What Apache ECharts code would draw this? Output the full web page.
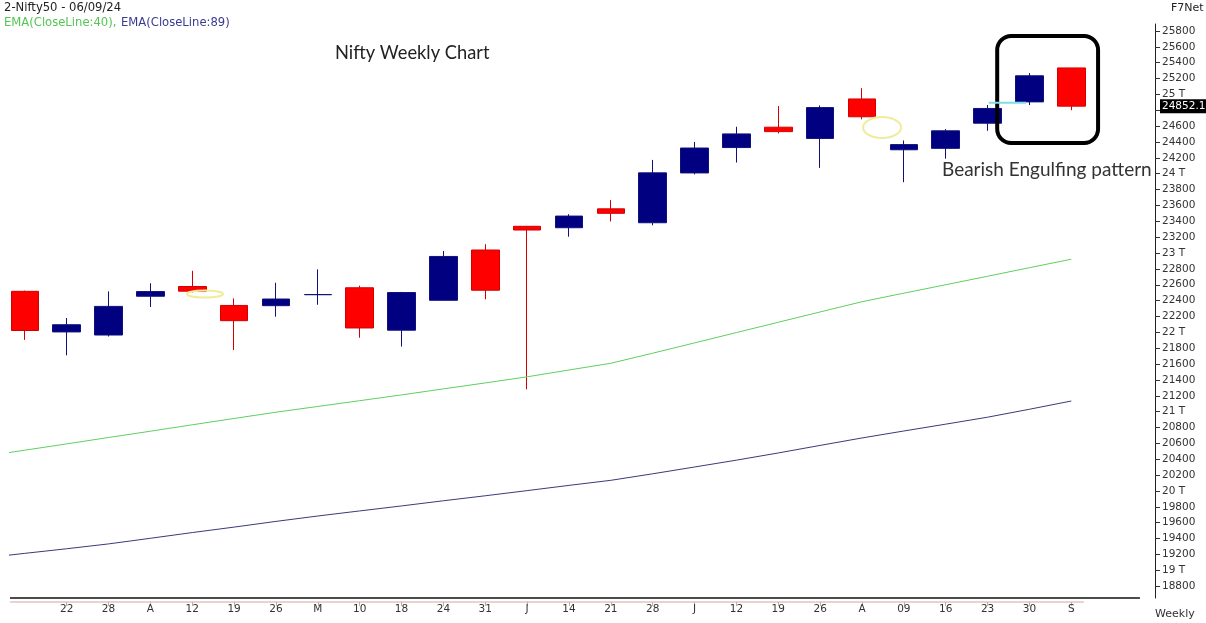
<!DOCTYPE html>
<html><head><meta charset="utf-8">
<script src="https://cdn.jsdelivr.net/npm/echarts@6/dist/echarts.min.js"></script>
<style>html,body{margin:0;padding:0;background:#fff}#c{width:1206px;height:623px}</style>
</head><body><div id="c"></div>
<script>
// Weekly labels (index 0 = week of 11 Mar 2024, unlabeled)
const weekLabels = ['', '22','28','A','12','19','26','M','10','18','24','31','J','14','21','28','J','12','19','26','A','09','16','23','30','S'];
const openVals  = [22517, 22005, 21966, 22455, 22578, 22339, 22336, 22475, 22562, 22027, 22404, 23038, 23337, 23319, 23557, 23382, 24010, 24330, 24587, 24445, 24943, 24302, 24320, 24637, 24906, 25334];
const closeVals = [22023, 22096, 22327, 22514, 22519, 22147, 22420, 22476, 22055, 22502, 22957, 22531, 23290, 23466, 23501, 24011, 24324, 24502, 24531, 24834, 24718, 24367, 24541, 24823, 25235, 24852.1];
const lowVals   = [21905, 21710, 21947, 22320, 22503, 21777, 22198, 22348, 21932, 21821, 22404, 22417, 21281, 23206, 23398, 23350, 23992, 24141, 24508, 24074, 24686, 23893, 24190, 24541, 24866, 24801];
const highVals  = [22526, 22180, 22516, 22619, 22776, 22428, 22625, 22794, 22588, 22510, 23026, 23111, 23339, 23490, 23667, 24174, 24401, 24592, 24854, 24861, 25078, 24419, 24563, 24867, 25269, 25334];
// EMA values, starting one week before the first candle (index -1)
const ema40 = [20434, 20514, 20593, 20674, 20753, 20834, 20914, 20993, 21065, 21138, 21211, 21287, 21362, 21439, 21525, 21610, 21737, 21867, 21997, 22127, 22257, 22386, 22494, 22600, 22707, 22815, 22922];
const ema89 = [19153, 19213, 19271, 19332, 19403, 19475, 19544, 19616, 19684, 19748, 19811, 19876, 19939, 20004, 20070, 20134, 20216, 20302, 20388, 20479, 20574, 20668, 20756, 20842, 20930, 21030, 21134];
const yTicks = [];
for (let v = 18800; v <= 25800; v += 200) yTicks.push(v);
const xTicks = weekLabels.map((l, i) => i).filter(i => weekLabels[i] !== '');

// annotations (data coordinates)
const boxCorners = [[23.23, 25737], [25.64, 24388]];
const ellipse1 = {at: [4.305, 22484], rx: 18, ry: 3.5};
const ellipse2 = {at: [20.48, 24583], rx: 19, ry: 10.5};
const cyanSeg = [[23.03, 24896], [23.92, 24896]];

const candles = openVals.map((o, i) => [i, o, closeVals[i], lowVals[i], highVals[i]]);
const e40 = ema40.map((v, i) => [i - 1, v]);
const e89 = ema89.map((v, i) => [i - 1, v]);
const lastClose = closeVals[closeVals.length - 1];

const AX = 'DejaVu Sans';
const chart = echarts.init(document.getElementById('c'));
chart.setOption({
  animation: false,
  backgroundColor: '#fff',
  grid: {left: 10, right: 51, top: 24, bottom: 25, containLabel: false},
  xAxis: {
    type: 'value', min: -0.354, max: 27, offset: 4,
    axisLine: {show: false, onZero: false}, splitLine: {show: false},
    axisTick: {show: true, length: 4, customValues: xTicks, lineStyle: {color: '#d4a5a5'}},
    axisLabel: {show: true, customValues: xTicks, margin: 2, color: '#333', fontSize: 10.5, fontFamily: AX,
      formatter: v => weekLabels[Math.round(v)] || ''}
  },
  yAxis: {
    type: 'value', position: 'right', min: 18650, max: 25888,
    splitLine: {show: false},
    axisLine: {show: true, onZero: false, lineStyle: {color: '#222', width: 1}},
    axisTick: {show: true, length: 5, customValues: yTicks, lineStyle: {color: '#333'}},
    axisLabel: {show: true, customValues: yTicks, margin: 7, color: '#333', fontSize: 10.5, fontFamily: AX,
      formatter: v => (v % 1000 === 0 ? (v / 1000) + ' T' : String(v))}
  },
  series: [
    {type: 'line', name: 'EMA40', data: e40, showSymbol: false, symbol: 'none',
      lineStyle: {color: '#5fcf5f', width: 1}, clip: true},
    {type: 'line', name: 'EMA89', data: e89, showSymbol: false, symbol: 'none',
      lineStyle: {color: '#3a3a78', width: 1}, clip: true},
    {type: 'candlestick', name: 'Nifty', data: candles, barWidth: 28, clip: false,
      encode: {x: 0, y: [1, 2, 3, 4]},
      itemStyle: {color: '#000080', color0: '#ff0000', borderColor: '#10107a', borderColor0: '#d40000', borderWidth: 1},
      markLine: {
        silent: true, symbol: ['none', 'none'], animation: false, z: 20,
        lineStyle: {color: 'rgba(0,0,0,0)', width: 0, type: 'solid'},
        emphasis: {disabled: true},
        data: [{yAxis: lastClose}],
        label: {show: true, position: 'end', distance: 5, formatter: String(lastClose), opacity: 1,
          color: '#fff', backgroundColor: '#000', padding: [2, 2, 1, 2], fontSize: 10.5, fontFamily: AX}
      }
    }
  ]
});

const P = p => chart.convertToPixel({gridIndex: 0}, p);
const b0 = P(boxCorners[0]), b1 = P(boxCorners[1]);
const el1 = P(ellipse1.at), el2 = P(ellipse2.at);
const c0 = P(cyanSeg[0]), c1 = P(cyanSeg[1]);
const axL = P([-0.354, 18650]), axBlackEnd = P([26.64, 18650]), axPinkEnd = P([25.30, 18650]);

function txt(text, x, y, fill, size, family) {
  return {type: 'text', z: 100, style: {text: text, x: x, y: y, fill: fill, fontSize: size, fontFamily: family,
    align: 'left', verticalAlign: 'middle', textAlign: 'left', textVerticalAlign: 'middle'}};
}

chart.setOption({
  graphic: [
    {type: 'line', z: 50, shape: {x1: axL[0], y1: axL[1], x2: axBlackEnd[0], y2: axL[1]}, style: {stroke: '#111', lineWidth: 1.5}},
    {type: 'line', z: 50, shape: {x1: axL[0], y1: axL[1] + 4, x2: axPinkEnd[0], y2: axL[1] + 4}, style: {stroke: '#d4a5a5', lineWidth: 1}},
    {type: 'rect', z: 60, shape: {x: b0[0], y: b0[1], width: b1[0] - b0[0], height: b1[1] - b0[1], r: 14},
      style: {fill: 'none', stroke: '#000', lineWidth: 4}},
    {type: 'ellipse', z: 60, shape: {cx: el1[0], cy: el1[1], rx: ellipse1.rx, ry: ellipse1.ry}, style: {fill: 'none', stroke: '#efec9c', lineWidth: 2}},
    {type: 'ellipse', z: 60, shape: {cx: el2[0], cy: el2[1], rx: ellipse2.rx, ry: ellipse2.ry}, style: {fill: 'none', stroke: '#efec9c', lineWidth: 2}},
    {type: 'line', z: 60, shape: {x1: c0[0], y1: c0[1], x2: c1[0], y2: c1[1]}, style: {stroke: '#7fdde6', lineWidth: 2}},
    txt('2-Nifty50 - 06/09/24', 4, 8, '#222', 11.6, AX),
    txt('EMA(CloseLine:40),', 4, 23, '#55c455', 11.6, AX),
    txt('EMA(CloseLine:89)', 121, 23, '#3a3a90', 11.6, AX),
    txt('F7Net', 1171, 8, '#222', 11, AX),
    txt('Weekly', 1155, 614, '#333', 11, AX),
    txt('Nifty Weekly Chart', 335, 53, '#222', 18.3, 'Lato'),
    txt('Bearish Engulfing pattern', 942, 170, '#333', 19, 'Lato')
  ]
});
</script>
</body></html>
